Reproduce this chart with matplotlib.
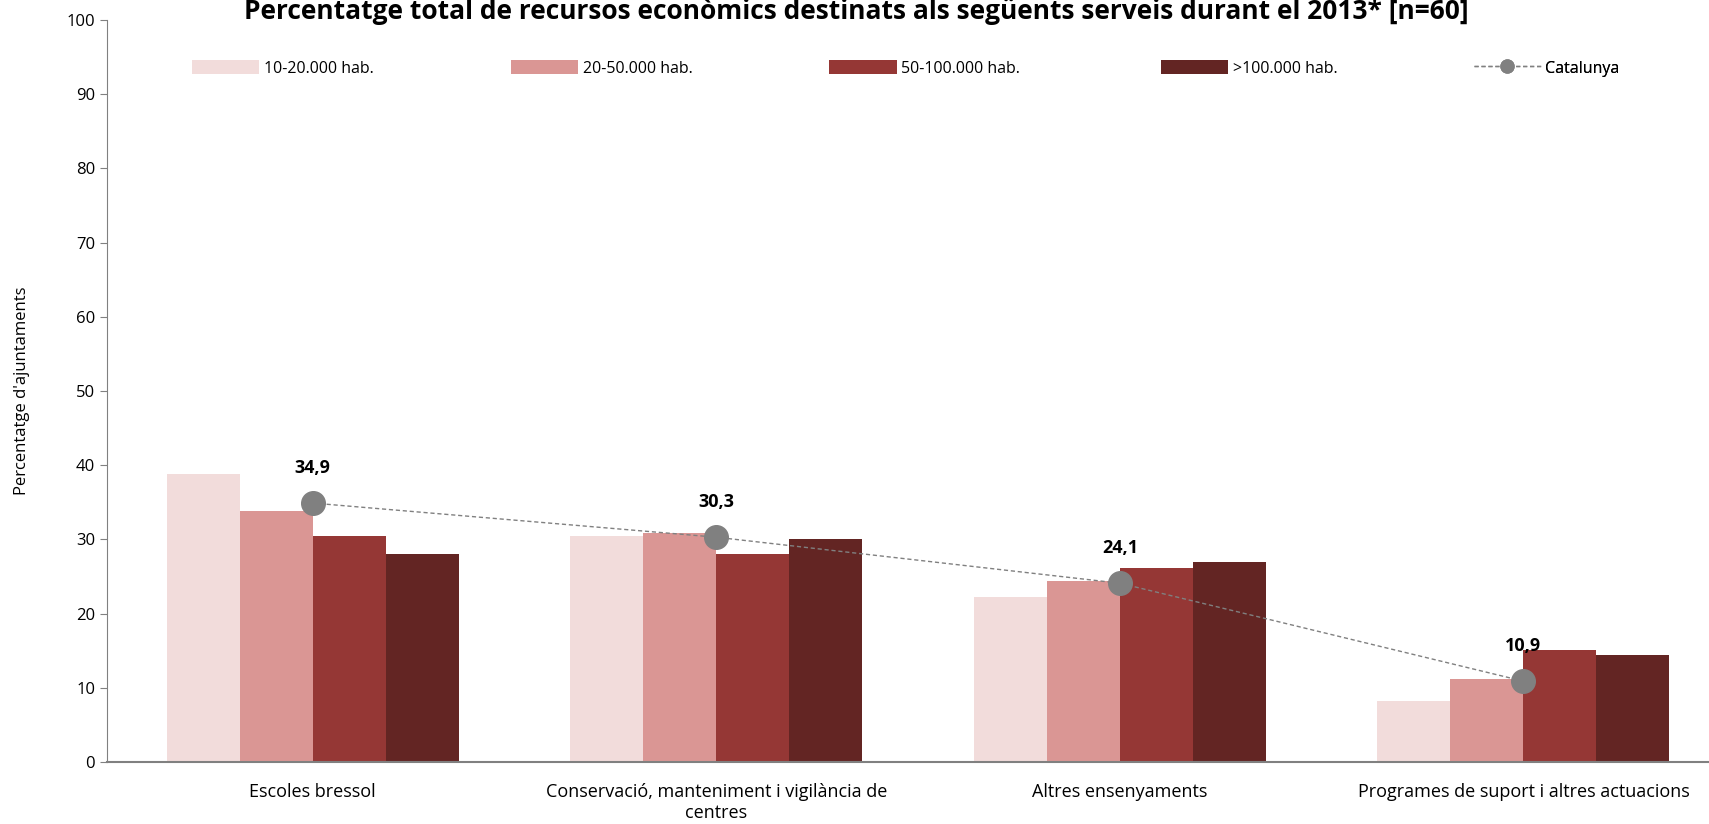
import matplotlib.pyplot as plt
import numpy as np

plt.rcParams['font.family'] = ['Open Sans', 'DejaVu Sans']

categories = ['Escoles bressol',
              'Conservació, manteniment i vigilància de\ncentres',
              'Altres ensenyaments',
              'Programes de suport i altres actuacions']
series_names = ['10-20.000 hab.', '20-50.000 hab.', '50-100.000 hab.', '>100.000 hab.']
series_values = [
    [38.8, 30.4, 22.3, 8.2],
    [33.8, 30.8, 24.4, 11.2],
    [30.4, 28.0, 26.1, 15.1],
    [28.0, 30.1, 27.0, 14.4],
]
catalunya = [34.9, 30.3, 24.1, 10.9]
colors = ['#F2DCDB', '#DA9694', '#953735', '#632523']

fig = plt.figure(figsize=(17.09, 8.24), dpi=100)
ax = fig.add_axes([0.0626, 0.0752, 0.9374, 0.9005])

x = np.arange(len(categories))
w = 0.181
handles = []
for i, vals in enumerate(series_values):
    b = ax.bar(x + (i - 1.5) * w, vals, width=w, color=colors[i], edgecolor='none',
               label=series_names[i], zorder=2)
    handles.append(b)

line, = ax.plot(x, catalunya, color='#808080', linestyle=(0, (3, 2)), linewidth=1,
                marker='o', markersize=17, markerfacecolor='#808080',
                markeredgecolor='#808080', label='Catalunya', zorder=3)
for xi, v in zip(x, catalunya):
    ax.annotate(f'{v:.1f}'.replace('.', ','), (xi, v), xytext=(0, 19),
                textcoords='offset points', ha='center', va='bottom',
                fontsize=13, fontweight='bold', color='black')

ax.set_xlim(-0.51, 3.46)
ax.set_ylim(0, 100)
ax.set_yticks(range(0, 101, 10))
ax.set_xticks(x)
ax.set_xticklabels(categories, fontsize=13)
ax.tick_params(axis='x', length=0, pad=15)
ax.tick_params(axis='y', labelsize=12, color='#808080', length=5, direction='out')
for s in ['top', 'right']:
    ax.spines[s].set_visible(False)
ax.spines['left'].set_color('#808080')
ax.spines['bottom'].set_color('#808080')
ax.spines['bottom'].set_linewidth(1.5)
ax.set_ylabel("Percentatge d'ajuntaments", fontsize=12, labelpad=26)

# legend entries placed at evenly spaced positions
leg_x = [0.053, 0.252, 0.451, 0.658, 0.853]
all_handles = handles + [line]
all_labels = series_names + ['Catalunya']
for hx, h, lab in zip(leg_x, all_handles, all_labels):
    leg = ax.legend([h], [lab], loc='center left', bbox_to_anchor=(hx, 0.935),
                    frameon=False, fontsize=11.5, handlelength=4.2, handleheight=1.0,
                    handletextpad=0.3, borderpad=0, borderaxespad=0, markerscale=0.55)
    ax.add_artist(leg)

fig.text(0.501, 0.977, 'Percentatge total de recursos econòmics destinats als següents serveis durant el 2013* [n=60]',
         ha='center', va='baseline', fontsize=19, fontweight='bold')

fig.savefig('out.png', dpi=100)
